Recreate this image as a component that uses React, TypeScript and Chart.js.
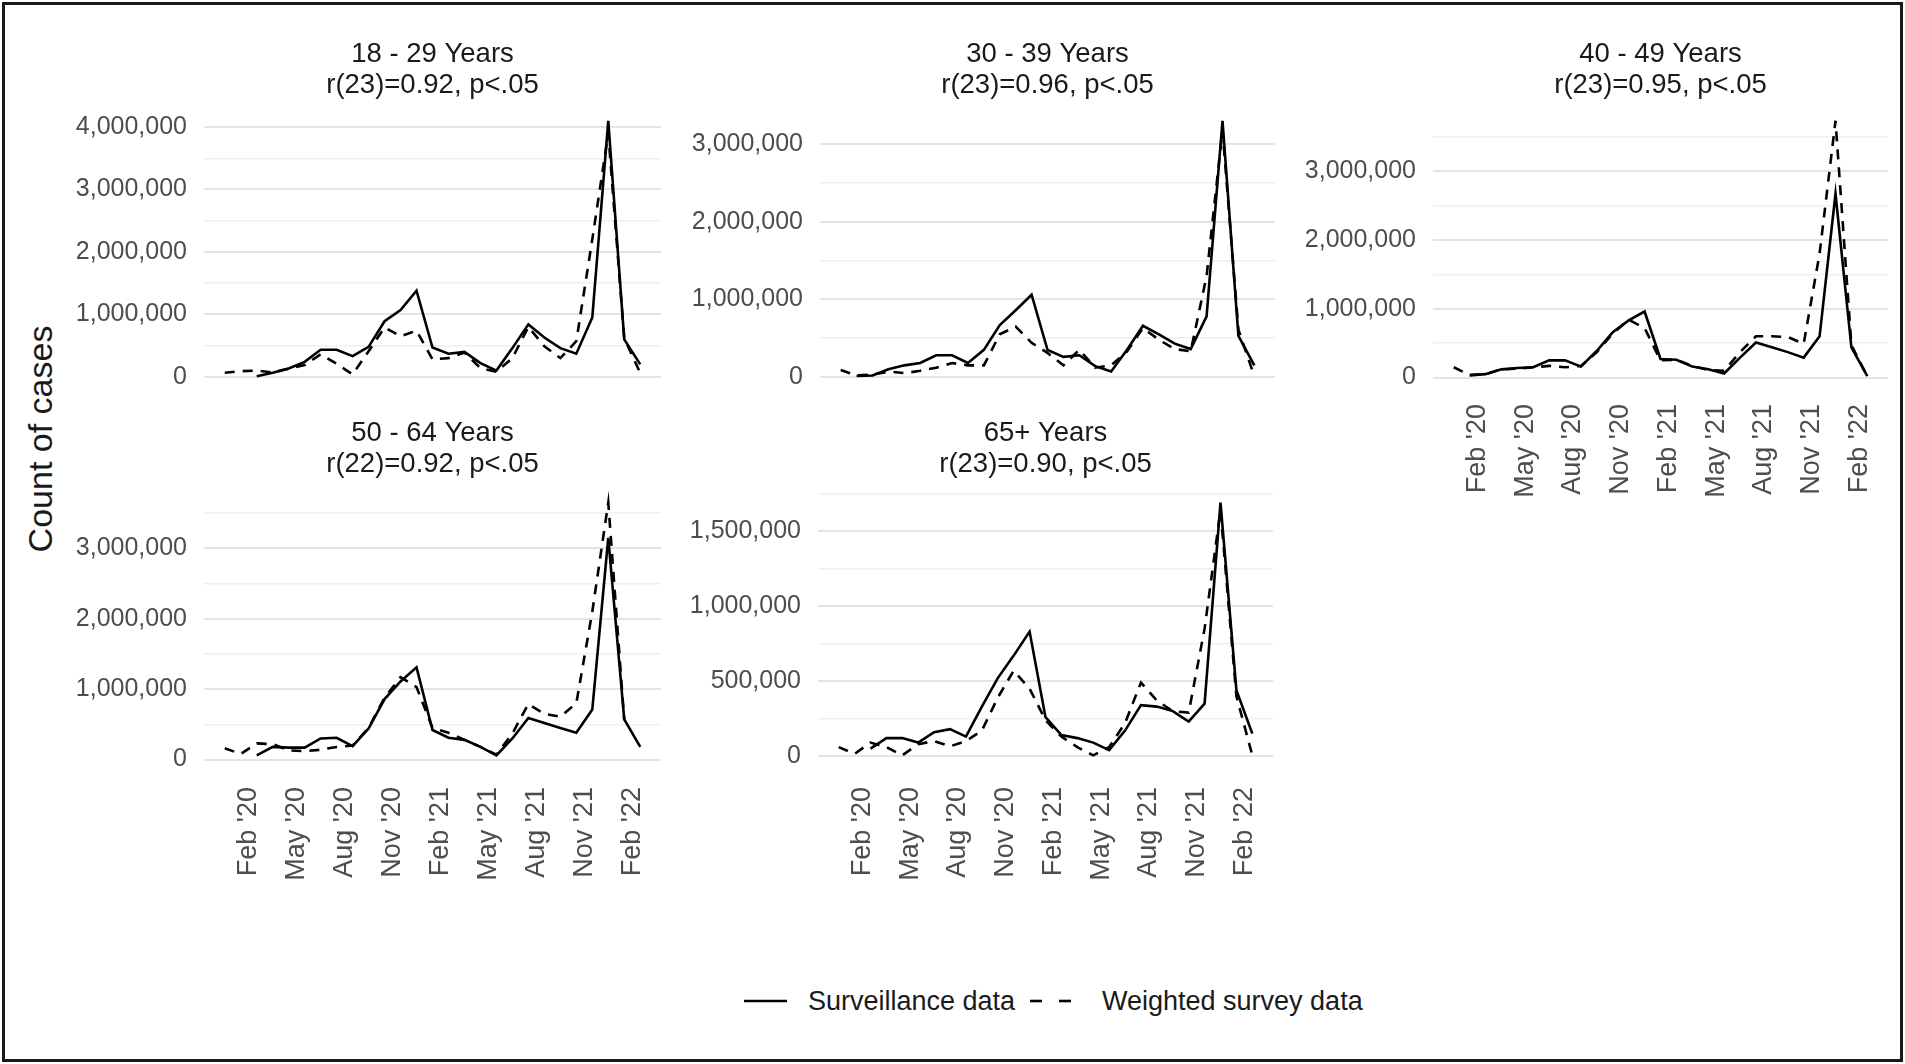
import React, { useEffect, useRef } from 'react';
import { Chart, registerables } from 'chart.js';

Chart.register(...registerables);

const FONT = "'Liberation Sans', Arial, Helvetica, sans-serif";

// Months Jan 2020 .. Mar 2022 (index 0..26)
const MONTHS = [
  "Jan '20", "Feb '20", "Mar '20", "Apr '20", "May '20", "Jun '20", "Jul '20", "Aug '20", "Sep '20",
  "Oct '20", "Nov '20", "Dec '20", "Jan '21", "Feb '21", "Mar '21", "Apr '21", "May '21", "Jun '21",
  "Jul '21", "Aug '21", "Sep '21", "Oct '21", "Nov '21", "Dec '21", "Jan '22", "Feb '22", "Mar '22",
];
const X_TICK_INDEX = [1, 4, 7, 10, 13, 16, 19, 22, 25];

// 18 - 29 Years
const SURV_18_29 = [null, null, 10000, 64000, 134000, 240000, 434000, 434000, 332000, 480000, 890000, 1070000, 1380000, 470000, 370000, 400000, 220000, 100000, 460000, 840000, 630000, 460000, 370000, 950000, 4100000, 600000, 200000];
const SURVEY_18_29 = [65000, 90000, 100000, 70000, 130000, 190000, 360000, 210000, 40000, 410000, 790000, 650000, 740000, 280000, 300000, 390000, 140000, 80000, 300000, 800000, 490000, 300000, 570000, 2200000, 3900000, 620000, 60000];

// 30 - 39 Years
const SURV_30_39 = [null, 13000, 20000, 100000, 150000, 180000, 280000, 280000, 180000, 350000, 670000, 860000, 1060000, 350000, 260000, 280000, 140000, 70000, 350000, 660000, 550000, 430000, 360000, 780000, 3300000, 530000, 150000];
const SURVEY_30_39 = [90000, 20000, 30000, 70000, 50000, 80000, 120000, 180000, 150000, 150000, 550000, 650000, 440000, 310000, 150000, 350000, 120000, 150000, 330000, 630000, 480000, 360000, 330000, 1300000, 3180000, 610000, 10000];

// 40 - 49 Years
const SURV_40_49 = [null, 30000, 50000, 120000, 140000, 150000, 250000, 250000, 160000, 390000, 660000, 830000, 960000, 270000, 260000, 160000, 120000, 60000, 290000, 510000, 440000, 370000, 290000, 600000, 2670000, 440000, 20000];
const SURVEY_40_49 = [150000, 40000, 50000, 120000, 130000, 150000, 170000, 150000, 170000, 370000, 640000, 840000, 720000, 250000, 260000, 170000, 110000, 100000, 370000, 600000, 600000, 590000, 490000, 1800000, 3730000, 470000, 20000];

// 50 - 64 Years
const SURV_50_64 = [null, null, 60000, 180000, 170000, 170000, 300000, 310000, 190000, 440000, 860000, 1110000, 1310000, 420000, 310000, 280000, 180000, 60000, 300000, 590000, 520000, 450000, 380000, 710000, 3150000, 570000, 180000];
const SURVEY_50_64 = [160000, 80000, 230000, 220000, 130000, 120000, 140000, 180000, 200000, 450000, 880000, 1170000, 1030000, 450000, 380000, 280000, 180000, 70000, 370000, 790000, 650000, 610000, 800000, 2100000, 3650000, 560000, null];

// 65+ Years
const SURV_65 = [null, null, 50000, 120000, 120000, 90000, 160000, 180000, 130000, 330000, 520000, 670000, 830000, 260000, 140000, 120000, 90000, 40000, 170000, 340000, 330000, 300000, 230000, 350000, 1690000, 440000, 150000];
const SURVEY_65 = [60000, 15000, 90000, 60000, 5000, 80000, 100000, 65000, 100000, 170000, 390000, 570000, 450000, 240000, 130000, 60000, 5000, 60000, 220000, 490000, 370000, 300000, 290000, 850000, 1640000, 400000, 5000];

const TITLES = [
  ['18 - 29 Years', 'r(23)=0.92, p<.05'],
  ['30 - 39 Years', 'r(23)=0.96, p<.05'],
  ['40 - 49 Years', 'r(23)=0.95, p<.05'],
  ['50 - 64 Years', 'r(22)=0.92, p<.05'],
  ['65+ Years', 'r(23)=0.90, p<.05'],
];
const Y_STEPS = [1000000, 1000000, 1000000, 1000000, 500000];

type Spec = {
  title: string[];
  surv: (number | null)[];
  survey: (number | null)[];
  step: number;
  left: number;
  top: number;
  yW: number;
  plotW: number;
  plotH: number;
  titleH: number;
  padTop: number;
  xH: number;
  xPad: number;
  showX: boolean;
};

const LINE_H = 31;
const TITLE_SIZE = 27.5;

const SPECS: Spec[] = [
  { title: TITLES[0], surv: SURV_18_29, survey: SURVEY_18_29, step: Y_STEPS[0], left: 60, top: 20, yW: 144, plotW: 457, plotH: 281, titleH: 88, padTop: 19, xH: 50, xPad: 19, showX: false },
  { title: TITLES[1], surv: SURV_30_39, survey: SURVEY_30_39, step: Y_STEPS[1], left: 670, top: 20, yW: 150, plotW: 455, plotH: 281, titleH: 88, padTop: 19, xH: 50, xPad: 19, showX: false },
  { title: TITLES[2], surv: SURV_40_49, survey: SURVEY_40_49, step: Y_STEPS[2], left: 1283, top: 20, yW: 150, plotW: 455, plotH: 281, titleH: 88, padTop: 19, xH: 125, xPad: 15, showX: true },
  { title: TITLES[3], surv: SURV_50_64, survey: SURVEY_50_64, step: Y_STEPS[3], left: 60, top: 400, yW: 144, plotW: 457, plotH: 278, titleH: 90, padTop: 18, xH: 125, xPad: 19, showX: true },
  { title: TITLES[4], surv: SURV_65, survey: SURVEY_65, step: Y_STEPS[4], left: 668, top: 400, yW: 150, plotW: 455, plotH: 278, titleH: 90, padTop: 18, xH: 125, xPad: 19, showX: true },
];

const RIGHT_PAD = 6;

function Panel({ spec }: { spec: Spec }) {
  const ref = useRef<HTMLCanvasElement>(null);
  const width = spec.yW + spec.plotW + RIGHT_PAD;
  const height = spec.titleH + spec.plotH + spec.xH;

  useEffect(() => {
    if (!ref.current) return;
    const vals = [...spec.surv, ...spec.survey].filter((v) => v !== null) as number[];
    const dmin = Math.min(...vals);
    const dmax = Math.max(...vals);
    const pad = (dmax - dmin) * 0.05;
    const ymin = dmin - pad;
    const ymax = dmax + pad;
    const half = spec.step / 2;
    const yTicks: number[] = [];
    for (let k = 0; k * half <= ymax; k++) {
      if (k * half >= ymin) yTicks.push(k * half);
    }
    const isMajor = (v: number) => Math.abs(v / spec.step - Math.round(v / spec.step)) < 1e-6;

    const chart = new Chart(ref.current, {
      type: 'line',
      data: {
        datasets: [
          {
            label: 'Surveillance data',
            data: spec.surv.map((y, i) => ({ x: i, y })) as any,
            borderColor: '#000000',
            borderWidth: 2.6,
            pointRadius: 0,
            tension: 0,
            fill: false,
          },
          {
            label: 'Weighted survey data',
            data: spec.survey.map((y, i) => ({ x: i, y })) as any,
            borderColor: '#000000',
            borderWidth: 2.6,
            borderDash: [10, 8],
            pointRadius: 0,
            tension: 0,
            fill: false,
          },
        ],
      },
      options: {
        animation: false,
        responsive: false,
        maintainAspectRatio: false,
        layout: { padding: { left: 0, top: 0, bottom: 0, right: RIGHT_PAD } },
        plugins: {
          legend: { display: false },
          tooltip: { enabled: false },
          title: {
            display: true,
            fullSize: false,
            text: spec.title,
            color: '#1a1a1a',
            font: { family: FONT, size: TITLE_SIZE, weight: 'normal', lineHeight: LINE_H / TITLE_SIZE },
            padding: { top: spec.padTop, bottom: spec.titleH - spec.padTop - 2 * LINE_H },
          },
        },
        scales: {
          x: {
            type: 'linear',
            min: -1.3,
            max: 27.3,
            bounds: 'data',
            afterBuildTicks: (s: any) => {
              s.ticks = X_TICK_INDEX.map((v) => ({ value: v }));
            },
            afterFit: (s: any) => {
              s.height = spec.xH;
              s.paddingLeft = 0;
              s.paddingRight = 0;
            },
            ticks: {
              display: spec.showX,
              autoSkip: false,
              minRotation: 90,
              maxRotation: 90,
              padding: spec.xPad,
              labelOffset: 8,
              color: '#4d4d4d',
              font: { family: FONT, size: 27 },
              callback: (v: any) => MONTHS[Number(v)] ?? '',
            },
            grid: { display: false, drawTicks: false },
            border: { display: false },
          },
          y: {
            type: 'linear',
            min: ymin,
            max: ymax,
            bounds: 'data',
            afterBuildTicks: (s: any) => {
              s.ticks = yTicks.map((v) => ({ value: v }));
            },
            afterFit: (s: any) => {
              s.width = spec.yW;
            },
            ticks: {
              padding: 17,
              color: '#4d4d4d',
              font: { family: FONT, size: 25 },
              callback: (v: any) => (isMajor(Number(v)) ? Number(v).toLocaleString('en-US') : ''),
            },
            grid: {
              drawTicks: false,
              color: (ctx: any) => (isMajor(ctx.tick?.value ?? 0) ? '#e4e4e4' : '#efefef'),
              lineWidth: (ctx: any) => (isMajor(ctx.tick?.value ?? 0) ? 2 : 1.4),
            },
            border: { display: false },
          },
        },
      },
    });
    return () => chart.destroy();
  }, []);

  return (
    <canvas
      ref={ref}
      width={width}
      height={height}
      style={{ position: 'absolute', left: spec.left, top: spec.top, width, height }}
    />
  );
}

export default function App() {
  return (
    <div
      style={{
        position: 'absolute',
        left: 0,
        top: 0,
        width: 1905,
        height: 1064,
        background: '#ffffff',
        overflow: 'hidden',
        fontFamily: FONT,
      }}
    >
      <div
        style={{
          position: 'absolute',
          left: 2,
          top: 2,
          width: 1901,
          height: 1060,
          border: '3px solid #1a1a1a',
          boxSizing: 'border-box',
        }}
      />
      {SPECS.map((s, i) => (
        <Panel key={i} spec={s} />
      ))}
      <div
        style={{
          position: 'absolute',
          left: 40,
          top: 439,
          transform: 'translate(-50%, -50%) rotate(-90deg)',
          whiteSpace: 'nowrap',
          fontSize: 34,
          color: '#1a1a1a',
          lineHeight: '40px',
        }}
      >
        Count of cases
      </div>
      <svg style={{ position: 'absolute', left: 0, top: 981, width: 1905, height: 40 }} width={1905} height={40}>
        <line x1={744} y1={20} x2={787} y2={20} stroke="#000" strokeWidth={2.6} />
        <line x1={1030} y1={20} x2={1042} y2={20} stroke="#000" strokeWidth={2.6} />
        <line x1={1059} y1={20} x2={1071} y2={20} stroke="#000" strokeWidth={2.6} />
      </svg>
      <div
        style={{
          position: 'absolute',
          left: 808,
          top: 981,
          height: 40,
          lineHeight: '40px',
          fontSize: 27,
          color: '#1a1a1a',
          whiteSpace: 'nowrap',
        }}
      >
        Surveillance data
      </div>
      <div
        style={{
          position: 'absolute',
          left: 1102,
          top: 981,
          height: 40,
          lineHeight: '40px',
          fontSize: 27,
          color: '#1a1a1a',
          whiteSpace: 'nowrap',
        }}
      >
        Weighted survey data
      </div>
    </div>
  );
}
